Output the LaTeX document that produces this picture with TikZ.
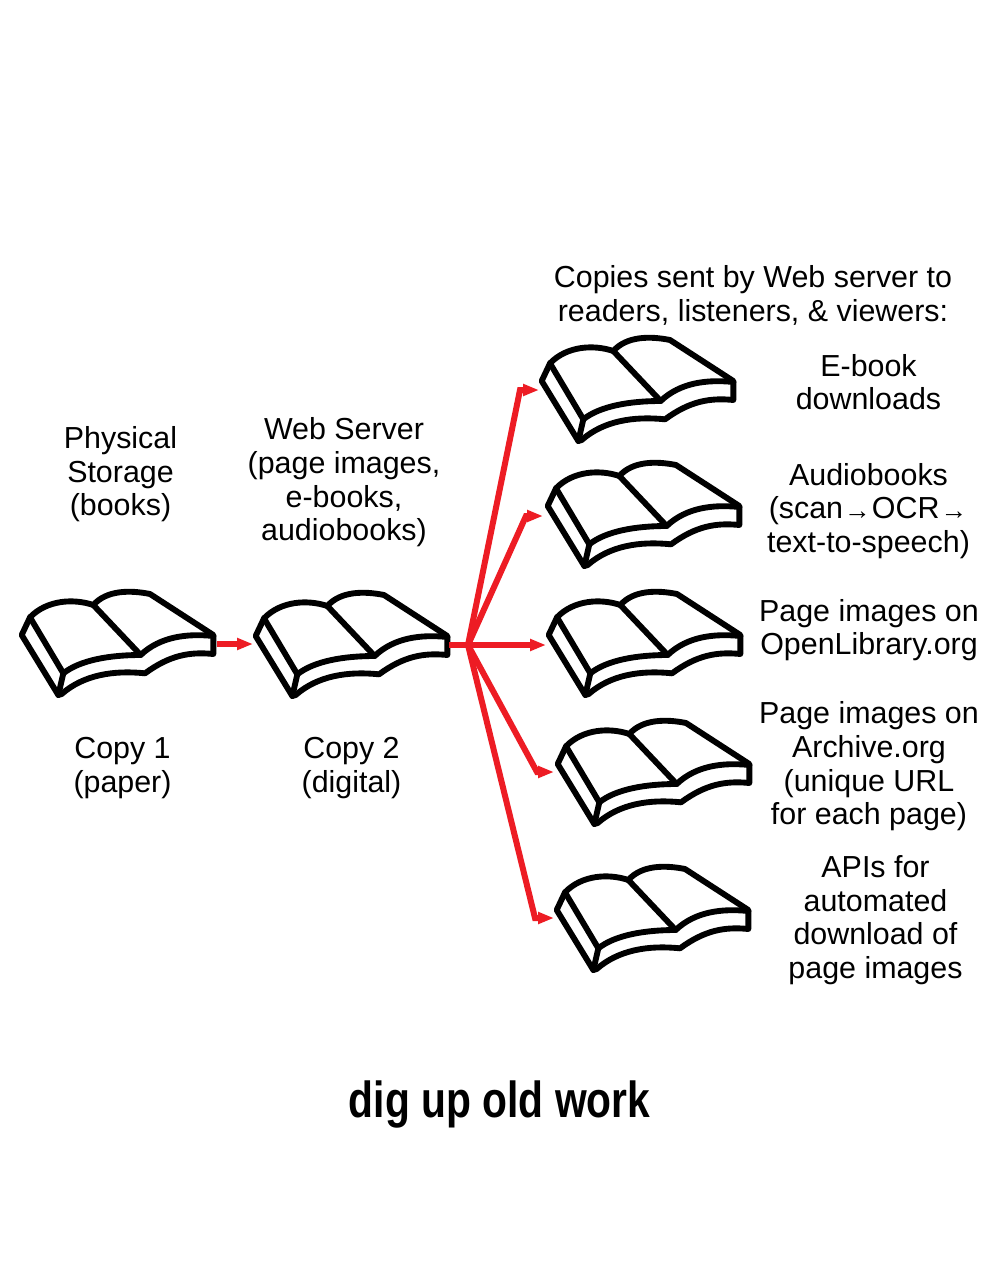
\documentclass[tikz,border=0pt]{standalone}
\usepackage{fontspec}
\setmainfont{Liberation Sans}
\usetikzlibrary{arrows.meta}
\definecolor{arrowred}{HTML}{ED1C24}
\newcommand{\smallarrow}{\kern0.8pt{\fontsize{20pt}{20pt}\selectfont\raisebox{-0.5pt}{→}}\kern0.8pt}
\tikzset{
  x=0.75pt,y=-0.75pt,
  label text/.style={align=center,inner sep=0pt,font=\fontsize{22.8pt}{25.2pt}\selectfont},
  title text/.style={inner sep=0pt},
  book line/.style={line width=4.4pt,line join=round,line cap=round,draw=black,fill=white},
  red link/.style={draw=arrowred,line width=4.5pt,line join=miter,-{Triangle[length=12pt,width=8.5pt]}},
  pics/openbook/.style={code={
    \begin{scope}[scale=1/3]
    \path[book line] (35,165) -- (60,112) .. controls (110,60) and (190,55) .. (250,75)
      .. controls (290,30) and (360,30) .. (420,42) -- (610,165) -- (610,222)
      .. controls (540,215) and (480,225) .. (405,280)
      .. controls (310,270) and (220,285) .. (155,342) -- (145,345) -- cycle;
    \draw[book line,fill=none] (60,112) -- (160,280) -- (145,345);
    \draw[book line,fill=none] (160,280) .. controls (210,240) and (300,225) .. (392,225)
      .. controls (450,170) and (530,160) .. (610,168);
    \draw[book line,fill=none] (250,75) -- (392,225);
    \end{scope}
  }}
}
\begin{document}
\begin{tikzpicture}
\useasboundingbox (0,0) rectangle (1000,1287);
\fill[white] (0,0) rectangle (1000,1287);

% books
\pic at (10,580) {openbook};
\pic at (244,581) {openbook};
\pic at (530,326) {openbook};
\pic at (536,451) {openbook};
\pic at (537,580) {openbook};
\pic at (546,709) {openbook};
\pic at (545,855) {openbook};

% connector anchors
\coordinate (bookA) at (217,644);
\coordinate (bookAin) at (253,644);
\coordinate (bookB) at (449,645);
\coordinate (hub) at (468,645);
\coordinate (bendE) at (520,390);
\coordinate (tipE) at (539,390);
\coordinate (bendF) at (526,516);
\coordinate (tipF) at (543,516);
\coordinate (tipG) at (546,645);
\coordinate (bendH) at (537,772);
\coordinate (tipH) at (554,772);
\coordinate (bendI) at (535,918);
\coordinate (tipI) at (554,918);

% connectors
\draw[red link] (bookA) -- (bookAin);
\draw[red link] (bookB) -- (tipG);
\draw[red link] (hub) -- (bendE) -- (tipE);
\draw[red link] (hub) -- (bendF) -- (tipF);
\draw[red link] (hub) -- (bendH) -- (tipH);
\draw[red link] (hub) -- (bendI) -- (tipI);

% labels
\node[label text] (physical) at (120.5,474.5) {Physical\\Storage\\(books)};
\node[label text] (copy1) at (122.5,768) {Copy 1\\(paper)};
\node[label text] (web) at (344,482.5) {Web Server\\(page images,\\e-books,\\audiobooks)};
\node[label text] (copy2) at (351.5,768) {Copy 2\\(digital)};
\node[label text] (sent) at (753,295.5) {Copies sent by Web server to\\readers, listeners, \& viewers:};
\node[label text] (ebook) at (868.5,382) {E-book\\downloads};
\node[label text] (audio) at (868.5,511) {Audiobooks\\(scan\smallarrow OCR\smallarrow\\text-to-speech)};
\node[label text] (pageimg) at (869,630) {Page images on\\OpenLibrary.org};
\node[label text] (archive) at (869,766.5) {Page images on\\Archive.org\\(unique URL\\for each page)};
\node[label text] (apis) at (875.5,920) {APIs for\\automated\\download of\\page images};
\node[title text] (title) at (499.5,1104) {\scalebox{0.805}[1]{\fontsize{38pt}{41pt}\selectfont\bfseries dig up old work}};
\end{tikzpicture}
\end{document}
